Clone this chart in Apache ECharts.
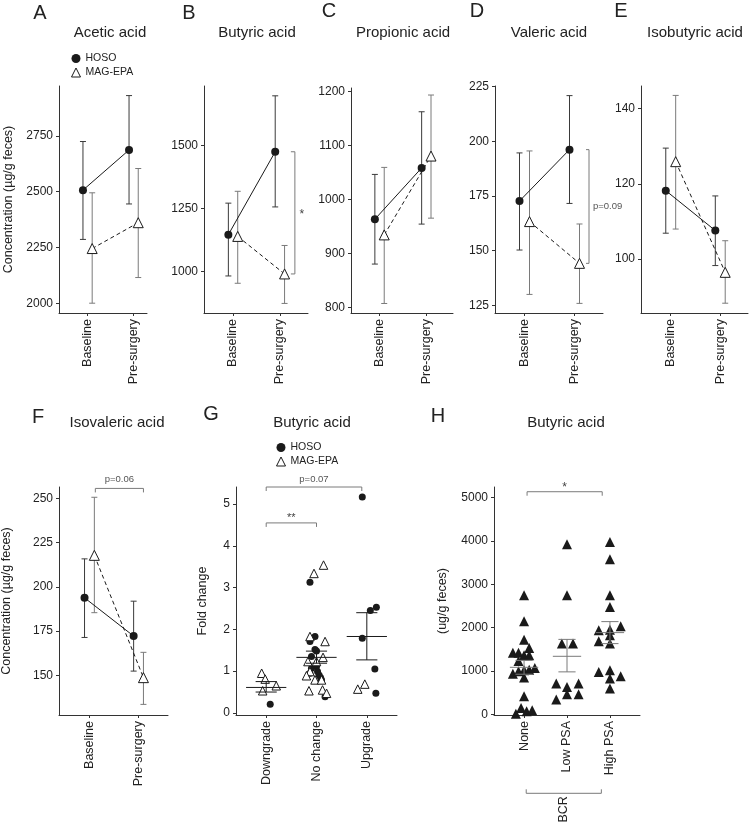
<!DOCTYPE html>
<html>
<head>
<meta charset="utf-8">
<script src="https://cdn.jsdelivr.net/npm/echarts@6/dist/echarts.min.js"></script>
<style>
html, body { margin: 0; padding: 0; background: #fff; }
#chart { width: 750px; height: 825px; }
</style>
</head>
<body>
<div id="chart"></div>
<script>
// ---- data: panels A-F, concentration at two time points (mean and error bar ends)
var timepoints = ['Baseline', 'Pre-surgery'];
var acidNames = ['Acetic acid', 'Butyric acid', 'Propionic acid', 'Valeric acid', 'Isobutyric acid', 'Isovaleric acid'];
var hosoMean = [[2507, 2687], [1147, 1476], [963, 1058], [172.7, 196.2], [118.2, 107.6], [193.8, 172.2]];
var hosoLow  = [[2286, 2445], [983, 1257], [880, 954], [150.3, 171.6], [106.9, 98.3], [171.4, 152.4]];
var hosoHigh = [[2725, 2931], [1272, 1698], [1046, 1162], [194.7, 220.9], [129.5, 116.8], [215.8, 191.9]];
var magMean  = [[2245, 2361], [1140, 991], [934, 1080], [163.3, 144.2], [125.9, 96.5], [217.8, 148.7]];
var magLow   = [[2000, 2115], [954, 874], [807, 965], [130, 125.9], [108, 88.3], [185.4, 133.6]];
var magHigh  = [[2495, 2604], [1319, 1104], [1059, 1193], [195.6, 162.2], [143.5, 104.9], [250.6, 163]];
var concTicks = [[2000, 2250, 2500, 2750], [1000, 1250, 1500], [800, 900, 1000, 1100, 1200],
                 [125, 150, 175, 200, 225], [100, 120, 140], [150, 175, 200, 225, 250]];

// ---- data: panel G, butyric acid fold change by grade change
var changeGroups = ['Downgrade', 'No change', 'Upgrade'];
var foldHoso = [[0.21],
  [3.13, 1.83, 1.71, 1.52, 1.48, 1.35, 1.11, 1.07, 0.99, 0.95, 0.91, 0.85, 0.79, 0.39],
  [5.17, 2.53, 2.45, 1.79, 1.05, 0.47]];
var foldHosoJitter = [[0.08],
  [-0.13, -0.03, -0.13, -0.03, 0.0, -0.1, 0.0, -0.1, 0.02, -0.13, 0.05, 0.08, 0.1, 0.17],
  [-0.09, 0.19, 0.07, -0.09, 0.16, 0.18]];
var foldMag = [[0.95, 0.81, 0.65, 0.53],
  [3.54, 3.34, 1.83, 1.71, 1.33, 1.23, 1.23, 0.99, 0.89, 0.79, 0.79, 0.53, 0.55, 0.47],
  [0.57, 0.69]];
var foldMagJitter = [[-0.09, -0.02, 0.2, -0.07],
  [0.14, -0.05, -0.13, 0.17, 0.13, -0.17, 0.0, -0.13, -0.2, -0.03, 0.1, -0.15, 0.12, 0.2],
  [-0.18, -0.04]];
var foldMean = [0.61, 1.33, 1.83];
var foldSemLow = [0.50, 1.19, 1.27];
var foldSemHigh = [0.75, 1.48, 2.40];
var foldTicks = [0, 1, 2, 3, 4, 5];

// ---- data: panel H, butyric acid by BCR group
var bcrGroups = ['None', 'Low PSA', 'High PSA'];
var bcrValues = [
  [2750, 2147, 1724, 1532, 1424, 1424, 1362, 1362, 1231, 939, 993, 1016, 1031, 1070, 847, 416, 146, 69, 92, 15],
  [3926, 2748, 1632, 1632, 709, 709, 631, 462, 462, 339],
  [3979, 3580, 2748, 2478, 2032, 1940, 1955, 1824, 1686, 1632, 977, 1016, 824, 877, 593]];
var bcrJitter = [
  [0, 0, 0, 0.12, -0.26, -0.13, 0, 0.12, -0.13, -0.26, -0.13, 0, 0.12, 0.25, 0, 0, -0.07, 0.06, 0.19, -0.19],
  [0, 0, -0.12, 0.14, -0.25, 0.27, 0, 0, 0.27, -0.25],
  [0, 0, 0, 0, 0.25, -0.26, 0, 0, -0.26, 0, -0.26, 0, 0, 0.25, 0]];
var bcrMean = [1085, 1339, 1886];
var bcrSemLow = [925, 980, 1632];
var bcrSemHigh = [1245, 1730, 2140];
var bcrTicks = [0, 1000, 2000, 3000, 4000, 5000];

// ---- layout
var FONT = '"Liberation Sans", Arial, Helvetica, sans-serif';
var INK = '#1a1a1a';
var GREY = '#7a7a7a';
var DODGE = 0.1;

var timeLayout = [
  {left: 59,  top: 86,  width: 88,  height: 227, xMin: -0.62, xMax: 1.29, yMin: 1956, yMax: 2974, letter: 'A', lx: 40,  ly: 3,   tx: 110, ty: 25},
  {left: 204, top: 86,  width: 104, height: 227, xMin: -0.62, xMax: 1.6,  yMin: 836,  yMax: 1737, letter: 'B', lx: 189, ly: 3,   tx: 257, ty: 25},
  {left: 351, top: 88,  width: 102, height: 225, xMin: -0.61, xMax: 1.57, yMin: 789.4, yMax: 1206, letter: 'C', lx: 329, ly: 1,  tx: 403, ty: 25},
  {left: 495, top: 86,  width: 108, height: 227, xMin: -0.59, xMax: 1.57, yMin: 121.5, yMax: 225.3, letter: 'D', lx: 477, ly: 1, tx: 549, ty: 25},
  {left: 641, top: 86,  width: 107, height: 227, xMin: -0.6,  xMax: 1.56, yMin: 85.7, yMax: 146,  letter: 'E', lx: 621, ly: 1,   tx: 695, ty: 25},
  {left: 59,  top: 487, width: 109, height: 228, xMin: -0.62, xMax: 1.6,  yMin: 127.6, yMax: 256.4, letter: 'F', lx: 38, ly: 407, tx: 117, ty: 415}
];
var foldLayout = {left: 236, top: 487, width: 161, height: 228, xMin: -0.6, xMax: 2.6, yMin: -0.05, yMax: 5.41};
var bcrLayout = {left: 494, top: 487, width: 146, height: 228, xMin: -0.7, xMax: 2.7, yMin: -16, yMax: 5248};

function lineStyle(c) { return {stroke: c, lineWidth: 1, fill: null}; }

function renderErrorBar(params, api) {
  var x = api.value(0);
  var hi = api.coord([x, api.value(2)]);
  var lo = api.coord([x, api.value(1)]);
  var c = api.visual('color');
  var cap = 3;
  return {type: 'group', children: [
    {type: 'line', shape: {x1: hi[0], y1: hi[1], x2: lo[0], y2: lo[1]}, style: lineStyle(c)},
    {type: 'line', shape: {x1: hi[0] - cap, y1: hi[1], x2: hi[0] + cap, y2: hi[1]}, style: lineStyle(c)},
    {type: 'line', shape: {x1: lo[0] - cap, y1: lo[1], x2: lo[0] + cap, y2: lo[1]}, style: lineStyle(c)}
  ]};
}

function meanSemRenderer(meanHalf, capHalf) {
  return function (params, api) {
    var x = api.value(0), m = api.value(1), lo = api.value(2), hi = api.value(3);
    var c = api.visual('color');
    var m1 = api.coord([x - meanHalf, m]), m2 = api.coord([x + meanHalf, m]);
    var l1 = api.coord([x - capHalf, lo]), l2 = api.coord([x + capHalf, lo]);
    var h1 = api.coord([x - capHalf, hi]), h2 = api.coord([x + capHalf, hi]);
    var pc = api.coord([x, lo]), ph = api.coord([x, hi]);
    return {type: 'group', children: [
      {type: 'line', shape: {x1: m1[0], y1: m1[1], x2: m2[0], y2: m2[1]}, style: lineStyle(c)},
      {type: 'line', shape: {x1: l1[0], y1: l1[1], x2: l2[0], y2: l2[1]}, style: lineStyle(c)},
      {type: 'line', shape: {x1: h1[0], y1: h1[1], x2: h2[0], y2: h2[1]}, style: lineStyle(c)},
      {type: 'line', shape: {x1: pc[0], y1: pc[1], x2: ph[0], y2: ph[1]}, style: lineStyle(c)}
    ]};
  };
}

// significance bracket between (x1,y1) and (x2,y2); arm = pixel offset of the end ticks
function bracket(gi, x1, y1, x2, y2, o) {
  return {
    type: 'custom', xAxisIndex: gi, yAxisIndex: gi, silent: true, clip: false, z: 5,
    data: [[x1, y1, x2, y2]],
    renderItem: function (params, api) {
      var p1 = api.coord([api.value(0), api.value(1)]);
      var p2 = api.coord([api.value(2), api.value(3)]);
      var kids = [
        {type: 'line', shape: {x1: p1[0], y1: p1[1], x2: p2[0], y2: p2[1]}, style: lineStyle(GREY)},
        {type: 'line', shape: {x1: p1[0], y1: p1[1], x2: p1[0] + o.arm[0], y2: p1[1] + o.arm[1]}, style: lineStyle(GREY)},
        {type: 'line', shape: {x1: p2[0], y1: p2[1], x2: p2[0] + o.arm[0], y2: p2[1] + o.arm[1]}, style: lineStyle(GREY)}
      ];
      if (o.text) {
        kids.push({
          type: 'text',
          x: (p1[0] + p2[0]) / 2 + o.dx, y: (p1[1] + p2[1]) / 2 + o.dy,
          rotation: o.rotation || 0,
          style: {text: o.text, fill: o.color || '#444', font: (o.size || 10) + 'px ' + FONT,
                  align: o.align || 'center', verticalAlign: 'middle'}
        });
      }
      return {type: 'group', children: kids};
    }
  };
}

function makeXAxis(gi, lay, ticks, names) {
  return {
    type: 'value', gridIndex: gi, min: lay.xMin, max: lay.xMax,
    axisLine: {show: true, onZero: false, lineStyle: {color: '#333', width: 1}},
    axisTick: {show: true, length: 3, customValues: ticks, lineStyle: {color: '#333'}},
    axisLabel: {show: true, customValues: ticks, rotate: 90, margin: 6, fontSize: 12.5, color: '#222', fontFamily: FONT,
                formatter: function (v) { return names[Math.round(v)]; }},
    splitLine: {show: false}
  };
}

function makeYAxis(gi, lay, ticks, name, gap) {
  return {
    type: 'value', gridIndex: gi, min: lay.yMin, max: lay.yMax,
    axisLine: {show: true, onZero: false, lineStyle: {color: '#333', width: 1}},
    axisTick: {show: true, length: 3, customValues: ticks, lineStyle: {color: '#333'}},
    axisLabel: {show: true, customValues: ticks, margin: 6, fontSize: 12, color: '#222', fontFamily: FONT,
                formatter: function (v) { return String(v); }},
    splitLine: {show: false},
    name: name || '', nameLocation: 'middle', nameGap: gap || 40, nameRotate: 90,
    nameTextStyle: {fontSize: 12.5, color: '#222', fontFamily: FONT}
  };
}

var option = {
  animation: false,
  backgroundColor: '#fff',
  textStyle: {fontFamily: FONT},
  title: [], grid: [], xAxis: [], yAxis: [], series: [], legend: []
};

function addTitle(text, x, y, size) {
  option.title.push({text: text, left: x, top: y, textAlign: 'center', padding: 0,
    textStyle: {fontSize: size, fontWeight: 'normal', color: '#222', fontFamily: FONT}});
}

function addGrid(lay) {
  option.grid.push({left: lay.left, top: lay.top, width: lay.width, height: lay.height,
    containLabel: false, outerBoundsMode: 'none'});
}

// ---- panels A-F
timeLayout.forEach(function (lay, i) {
  addGrid(lay);
  option.xAxis.push(makeXAxis(i, lay, [0, 1], timepoints));
  var yName = (i === 0 || i === 5) ? 'Concentration (\u00b5g/g feces)' : '';
  option.yAxis.push(makeYAxis(i, lay, concTicks[i], yName, i === 0 ? 44 : 46));
  addTitle(lay.letter, lay.lx, lay.ly, 20);
  addTitle(acidNames[i], lay.tx, lay.ty, 15);

  option.series.push({
    type: 'custom', xAxisIndex: i, yAxisIndex: i, silent: true, z: 2,
    itemStyle: {color: '#3a3a3a'}, renderItem: renderErrorBar, encode: {x: 0, y: [1, 2]},
    data: [[0 - DODGE, hosoLow[i][0], hosoHigh[i][0]], [1 - DODGE, hosoLow[i][1], hosoHigh[i][1]]]
  });
  option.series.push({
    type: 'custom', xAxisIndex: i, yAxisIndex: i, silent: true, z: 2,
    itemStyle: {color: GREY}, renderItem: renderErrorBar, encode: {x: 0, y: [1, 2]},
    data: [[0 + DODGE, magLow[i][0], magHigh[i][0]], [1 + DODGE, magLow[i][1], magHigh[i][1]]]
  });
  option.series.push({
    name: 'HOSO', type: 'line', xAxisIndex: i, yAxisIndex: i, z: 3,
    data: [[0 - DODGE, hosoMean[i][0]], [1 - DODGE, hosoMean[i][1]]],
    symbol: 'circle', symbolSize: 8,
    lineStyle: {color: INK, width: 1}, itemStyle: {color: INK, opacity: 1}
  });
  option.series.push({
    name: 'MAG-EPA', type: 'line', xAxisIndex: i, yAxisIndex: i, z: 4,
    data: [[0 + DODGE, magMean[i][0]], [1 + DODGE, magMean[i][1]]],
    symbol: 'triangle', symbolSize: 10,
    lineStyle: {color: INK, width: 1, type: [4, 3]},
    itemStyle: {color: '#fff', borderColor: INK, borderWidth: 1, opacity: 1}
  });
});

// brackets on B, D, F
option.series.push(bracket(1, 1.32, hosoMean[1][1], 1.32, magMean[1][1], {arm: [-4, 0], text: '*', dx: 7, dy: 2, size: 12}));
option.series.push(bracket(3, 1.29, hosoMean[3][1], 1.29, magMean[3][1], {arm: [-3, 0], text: 'p=0.09', dx: 4, dy: 0, size: 9.5, align: 'left', color: '#555'}));
option.series.push(bracket(5, 0.12, 255.6, 1.1, 255.6, {arm: [0, 4], text: 'p=0.06', dx: 0, dy: -9, size: 9.5, color: '#555'}));

// ---- panel G
var gi = 6;
addGrid(foldLayout);
option.xAxis.push(makeXAxis(gi, foldLayout, [0, 1, 2], changeGroups));
option.yAxis.push(makeYAxis(gi, foldLayout, foldTicks, 'Fold change', 27));
addTitle('G', 211, 404, 20);
addTitle('Butyric acid', 312, 415, 15);

var foldHosoPts = [], foldMagPts = [];
changeGroups.forEach(function (g, k) {
  foldHoso[k].forEach(function (v, j) { foldHosoPts.push([k + foldHosoJitter[k][j], v]); });
  foldMag[k].forEach(function (v, j) { foldMagPts.push([k + foldMagJitter[k][j], v]); });
});
option.series.push({
  name: 'HOSO', type: 'scatter', xAxisIndex: gi, yAxisIndex: gi, z: 3,
  data: foldHosoPts, symbol: 'circle', symbolSize: 7, itemStyle: {color: INK, opacity: 1}
});
option.series.push({
  name: 'MAG-EPA', type: 'scatter', xAxisIndex: gi, yAxisIndex: gi, z: 4,
  data: foldMagPts, symbol: 'triangle', symbolSize: 8.5,
  itemStyle: {color: '#fff', borderColor: INK, borderWidth: 1, opacity: 1}
});
option.series.push({
  type: 'custom', xAxisIndex: gi, yAxisIndex: gi, silent: true, z: 6,
  itemStyle: {color: INK}, renderItem: meanSemRenderer(0.4, 0.21),
  encode: {x: 0, y: [1, 2, 3]},
  data: foldMean.map(function (m, k) { return [k, m, foldSemLow[k], foldSemHigh[k]]; })
});
option.series.push(bracket(gi, 0, 5.41, 1.9, 5.41, {arm: [0, 4], text: 'p=0.07', dx: 0, dy: -8, size: 9.5, color: '#555'}));
option.series.push(bracket(gi, 0, 4.55, 1.0, 4.55, {arm: [0, 4], text: '**', dx: 0, dy: -5, size: 11, color: '#444'}));

// ---- panel H
var hi = 7;
addGrid(bcrLayout);
option.xAxis.push(makeXAxis(hi, bcrLayout, [0, 1, 2], bcrGroups));
option.yAxis.push(makeYAxis(hi, bcrLayout, bcrTicks, '(ug/g feces)', 45));
addTitle('H', 438, 406, 20);
addTitle('Butyric acid', 566, 415, 15);

var bcrPts = [];
bcrGroups.forEach(function (g, k) {
  bcrValues[k].forEach(function (v, j) { bcrPts.push([k + bcrJitter[k][j], v]); });
});
option.series.push({
  type: 'scatter', xAxisIndex: hi, yAxisIndex: hi, z: 3,
  data: bcrPts, symbol: 'triangle', symbolSize: 10, itemStyle: {color: INK, opacity: 1}
});
option.series.push({
  type: 'custom', xAxisIndex: hi, yAxisIndex: hi, silent: true, z: 6,
  itemStyle: {color: GREY}, renderItem: meanSemRenderer(0.33, 0.2),
  encode: {x: 0, y: [1, 2, 3]},
  data: bcrMean.map(function (m, k) { return [k, m, bcrSemLow[k], bcrSemHigh[k]]; })
});
option.series.push(bracket(hi, 0.07, 5139, 1.82, 5139, {arm: [0, 4], text: '*', dx: 0, dy: -4, size: 12, color: '#444'}));
option.series.push(bracket(hi, 0.05, -1824, 1.8, -1824, {arm: [0, -4], text: 'BCR', dx: 0, dy: 16, size: 12.5, color: '#222', rotation: Math.PI / 2}));

// ---- legends (A and G)
function legendAt(left, top) {
  return {
    left: left, top: top, orient: 'vertical', padding: 0, itemGap: 3,
    itemWidth: 9, itemHeight: 9, selectedMode: false,
    textStyle: {fontSize: 10.5, color: '#222', fontFamily: FONT},
    data: [
      {name: 'HOSO', icon: 'circle', itemStyle: {color: INK, borderWidth: 0}},
      {name: 'MAG-EPA', icon: 'triangle', itemStyle: {color: '#fff', borderColor: INK, borderWidth: 1}}
    ]
  };
}
option.legend.push(legendAt(71, 53));
option.legend.push(legendAt(276, 442));

var chart = echarts.init(document.getElementById('chart'), null, {renderer: 'canvas'});
chart.setOption(option);
</script>
</body>
</html>
